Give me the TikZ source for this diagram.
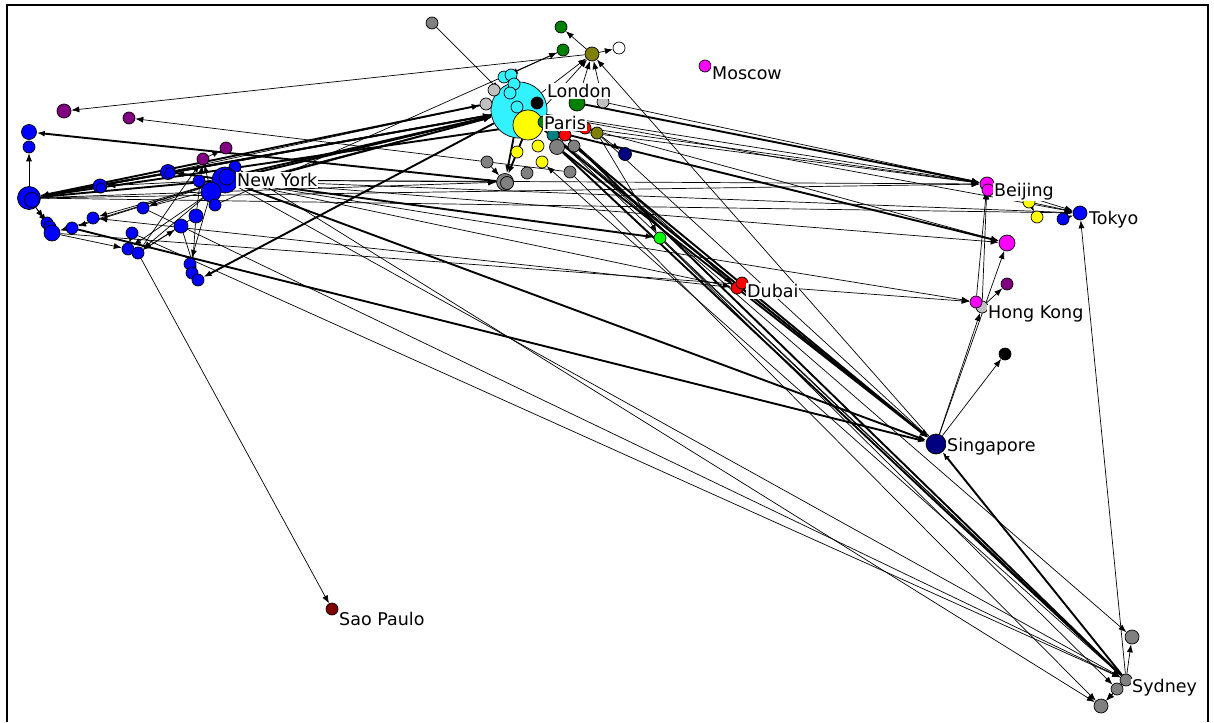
\documentclass[tikz,border=0pt]{standalone}
\usepackage{fontspec}
\newfontfamily\cityfont{DejaVu Sans}
\usepackage{tikz}
\usetikzlibrary{arrows.meta,backgrounds}
\definecolor{netcyan}{HTML}{33F2FF}
\definecolor{netblue}{HTML}{0000FF}
\definecolor{netnavy}{HTML}{000080}
\definecolor{netpurple}{HTML}{800080}
\definecolor{netmagenta}{HTML}{FF00FF}
\definecolor{netgray}{HTML}{808080}
\definecolor{netsilver}{HTML}{C0C0C0}
\definecolor{netolive}{HTML}{808000}
\definecolor{netgreen}{HTML}{008000}
\definecolor{netlime}{HTML}{00FF00}
\definecolor{netred}{HTML}{FF0000}
\definecolor{netmaroon}{HTML}{800000}
\definecolor{netteal}{HTML}{008080}
\definecolor{netyellow}{HTML}{FFFF00}

\begin{document}
\begin{tikzpicture}[
    x=1pt, y=-1pt,
    actor/.style={circle, draw=black, line width=0.7pt, inner sep=0pt, minimum size=#1},
    actor/.default=12pt,
    tie/.style={-{Latex[length=8pt,width=6pt]}, line width=0.7pt},
    strong/.style={tie, line width=1.9pt},
    city/.style={anchor=west, fill=white, inner sep=1pt, font=\cityfont\fontsize{17.5}{19}\selectfont}
]
\useasboundingbox (0,0) rectangle (1214,722);
\draw[line width=2.5pt] (7,722) |- (1208,5) -- (1208,722);

% London / Paris cluster
\node[actor=56pt, fill=netcyan] (lon) at (519,110) {};
\node[actor, fill=netcyan] (lc1) at (504,77) {};
\node[actor, fill=netcyan] (lc2) at (511,75) {};
\node[actor, fill=netcyan] (lc3) at (514,84) {};
\node[actor, fill=netcyan] (lc4) at (510,93) {};
\node[actor, fill=netcyan] (lc5) at (517,107) {};
\node[actor, fill=black] (lbk) at (537,103) {};
\node[actor, fill=netsilver] (ls1) at (486,104) {};
\node[actor, fill=netsilver] (ls2) at (494,90) {};
\node[actor=16pt, fill=netgreen] (lgr) at (577,103) {};
\node[actor, fill=netsilver] (ls3) at (603,102) {};
\node[actor=30pt, fill=netyellow] (par) at (528,125) {};
\node[actor, fill=netgreen] (pg) at (544,122) {};
\node[actor, fill=netred] (pr1) at (585,128) {};
\node[actor, fill=netteal] (pt) at (553,135) {};
\node[actor, fill=netred] (pr2) at (565,135) {};
\node[actor, fill=netolive] (pol) at (597,133) {};
\node[actor=13pt, fill=netnavy] (pnv) at (625,154) {};
\node[actor=15pt, fill=netgray] (pg1) at (557,147) {};
\node[actor, fill=netgray] (pg2) at (574,146) {};
\node[actor, fill=netyellow] (py1) at (538,146) {};
\node[actor, fill=netyellow] (py2) at (517,152) {};
\node[actor, fill=netyellow] (py3) at (542,162) {};
\node[actor, fill=netgray] (pg3) at (487,162) {};
\node[actor=17pt, fill=netgray] (pg4) at (505,182) {};
\node[actor=13pt, fill=netgray] (pg4b) at (507,183) {};
\node[actor, fill=netgray] (pg5) at (527,173) {};
\node[actor, fill=netgray] (pg6) at (570,172) {};
\node[actor, fill=netgray] (tg) at (432,23) {};
\node[actor, fill=netgreen] (gn1) at (561,27) {};
\node[actor, fill=netgreen] (gn2) at (563,50) {};
\node[actor=14pt, fill=netolive] (olv) at (592,54) {};
\node[actor, fill=white] (wht) at (619,48) {};
\node[actor, fill=netmagenta] (mow) at (705,66) {};

% New York and the west
\node[actor=14pt, fill=netpurple] (pu1) at (64,111) {};
\node[actor, fill=netpurple] (pu2) at (129,118) {};
\node[actor=15pt, fill=netblue] (bl1) at (29,132) {};
\node[actor, fill=netblue] (bl2) at (29,147) {};
\node[actor, fill=netpurple] (pu3) at (226,148) {};
\node[actor, fill=netpurple] (pu4) at (203,159) {};
\node[actor=15pt, fill=netblue] (bl3) at (168,172) {};
\node[actor=11pt, fill=netblue] (bl3b) at (170,173) {};
\node[actor=14pt, fill=netblue] (bl4) at (100,186) {};
\node[actor=10pt, fill=netblue] (bl4b) at (101,188) {};
\node[actor=23pt, fill=netblue] (bl5) at (29,198) {};
\node[actor=15pt, fill=netblue] (bl5b) at (32,200) {};
\node[actor, fill=netblue] (ny4) at (235,167) {};
\node[actor=26pt, fill=netblue] (nyc) at (225,180) {};
\node[actor=16pt, fill=netblue] (ny2) at (227,177) {};
\node[actor, fill=netblue] (ny5) at (199,181) {};
\node[actor=20pt, fill=netblue] (ny3) at (211,192) {};
\node[actor, fill=netblue] (bl6) at (215,205) {};
\node[actor=14pt, fill=netblue] (bl7) at (196,216) {};
\node[actor=14pt, fill=netblue] (bl8) at (181,226) {};
\node[actor, fill=netblue] (bl9) at (143,208) {};
\node[actor, fill=netblue] (bl10) at (93,218) {};
\node[actor, fill=netblue] (bl11) at (72,228) {};
\node[actor, fill=netblue] (bl12) at (47,223) {};
\node[actor, fill=netblue] (bl13) at (50,227) {};
\node[actor=16pt, fill=netblue] (bl14) at (52,233) {};
\node[actor, fill=netblue] (bl15) at (132,233) {};
\node[actor, fill=netblue] (bl16) at (128,249) {};
\node[actor, fill=netblue] (bl17) at (138,253) {};
\node[actor, fill=netblue] (bl18) at (190,264) {};
\node[actor, fill=netblue] (bl19) at (192,273) {};
\node[actor, fill=netblue] (bl20) at (198,280) {};
\node[actor, fill=netmaroon] (sao) at (332,609) {};

% the east
\node[actor=14pt, fill=netmagenta] (bei) at (987,184) {};
\node[actor, fill=netmagenta] (bei2) at (988,190) {};
\node[actor, fill=netyellow] (by1) at (1029,202) {};
\node[actor, fill=netyellow] (by2) at (1037,217) {};
\node[actor, fill=netblue] (tk1) at (1063,219) {};
\node[actor=14pt, fill=netblue] (tok) at (1080,213) {};
\node[actor=16pt, fill=netmagenta] (mg) at (1007,243) {};
\node[actor, fill=netpurple] (pu5) at (1007,284) {};
\node[actor, fill=netsilver] (hs) at (982,307) {};
\node[actor, fill=netmagenta] (hkg) at (976,302) {};
\node[actor, fill=black] (bk) at (1005,354) {};
\node[actor=20pt, fill=netnavy] (sgp) at (936,444) {};
\node[actor, fill=netred] (dxb) at (737,288) {};
\node[actor, fill=netred] (dx1) at (742,283) {};
\node[actor, fill=netlime] (lim) at (660,238) {};
\node[actor=14pt, fill=netgray] (sy4) at (1132,637) {};
\node[actor=14pt, fill=netgray] (sy3) at (1101,706) {};
\node[actor, fill=netgray] (sy2) at (1117,689) {};
\node[actor, fill=netgray] (syd) at (1126,680) {};

% city names
\node[city] (tlon) at (546,91) {London};
\node[city] (tpar) at (543,123) {Paris};
\node[city] (tnyc) at (236,180) {New York};
\node[city] (tmow) at (711,73) {Moscow};
\node[city] (tbei) at (993,192) {Beijing};
\node[city] (ttok) at (1088,220) {Tokyo};
\node[city] (thkg) at (987,314) {Hong Kong};
\node[city] (tdxb) at (746,291) {Dubai};
\node[city] (tsgp) at (946,447) {Singapore};
\node[city] (tsao) at (338,619) {Sao Paulo};
\node[city] (tsyd) at (1131,688) {Sydney};

\begin{scope}[on background layer]
\foreach \a/\b in {pg4/bl1, lon/bl5, par/bl5, ls1/bl5, nyc/bl5, nyc/lon, ny3/lon,
    lon/ny2, bl3/lim, lon/bl20, par/pg4, lon/pg4, par/mg, lgr/bei, lon/sgp,
    pg1/sgp, pg2/sgp, pg1/syd, pr2/syd, nyc/sgp, bl11/sgp, syd/sgp, bl5/lon}
    \draw[strong] (\a) -- (\b);
\foreach \a/\b in {tg/lon, olv/gn1, olv/wht, olv/pu1, gn2/lc1, lon/olv, lgr/olv,
    ls3/olv, par/olv, sgp/olv, pol/pnv, pg6/pu2, pu4/pu3, bl7/pu4, ny3/pu4,
    bl6/gn2, pg3/pg4, syd/py3, lon/bei, ls3/bei, par/bei, pr1/bei, lon/tok,
    pr1/mg, pol/lim, pr2/dxb, pol/sgp, pt/sgp, pt/syd, lim/syd,
    nyc/bei, nyc/tok, nyc/mg, nyc/hkg, nyc/dxb, nyc/syd, ny4/sy3, bl9/syd,
    bl15/syd, bl5/bei, bl5/tok, bl14/hkg, pg6/sy3, pt/sy4, lim/sy2,
    syd/tok, syd/sy4, syd/sy3, sy2/sy3, sgp/mg, sgp/bk, sgp/hs, hkg/bei,
    hs/bei, hs/pu5, by1/by2, by1/tok, bei/tok, tk1/tok, bl5/bl2, nyc/bl3,
    bl4/lon, bl3/lon, bl9/lon, nyc/bl4, nyc/bl9, nyc/bl10, nyc/bl11,
    bl5/bl12, bl5/bl13, nyc/bl14, bl14/bl16, bl15/bl16, bl17/sao, nyc/bl17,
    ny3/bl16, bl7/bl17, ny3/bl18, bl7/bl19, bl8/bl20, bl17/bl8, bl17/pu4,
    dxb/bl10, bl5/pg4, nyc/pg4, bl3/ls1}
    \draw[tie] (\a) -- (\b);
\end{scope}
\end{tikzpicture}
\end{document}
